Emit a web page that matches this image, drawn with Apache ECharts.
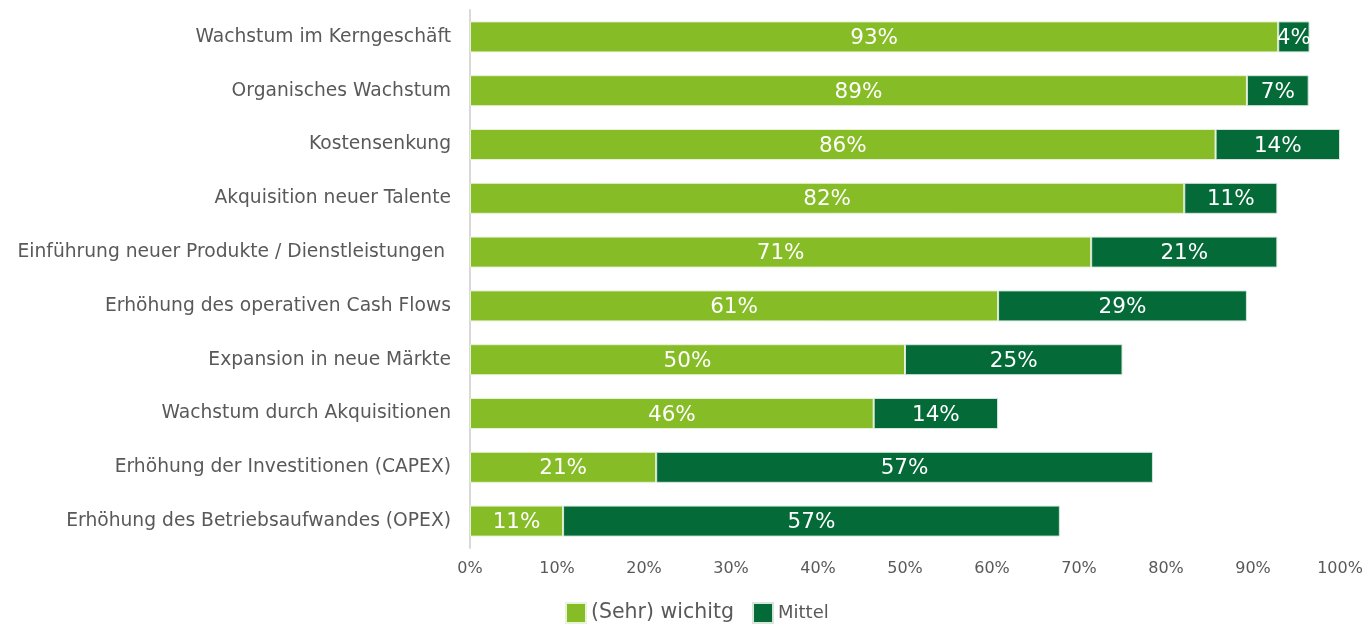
<!DOCTYPE html>
<html>
<head>
<meta charset="utf-8">
<script src="https://cdn.jsdelivr.net/npm/echarts@6/dist/echarts.min.js"></script>
<style>
  html, body { margin: 0; padding: 0; background: #fff; }
  #chart { width: 1369px; height: 627px; }
</style>
</head>
<body>
<div id="chart"></div>
<script>
// Kategorien (von oben nach unten)
const categories = [
    'Wachstum im Kerngeschäft',
    'Organisches Wachstum',
    'Kostensenkung',
    'Akquisition neuer Talente',
    'Einführung neuer Produkte / Dienstleistungen ',
    'Erhöhung des operativen Cash Flows',
    'Expansion in neue Märkte',
    'Wachstum durch Akquisitionen',
    'Erhöhung der Investitionen (CAPEX)',
    'Erhöhung des Betriebsaufwandes (OPEX)'
];
// Anteile in %
const sehrWichtig = [92.9, 89.3, 85.7, 82.1, 71.4, 60.7, 50.0, 46.4, 21.4, 10.7];
const mittel      = [3.6, 7.1, 14.3, 10.7, 21.4, 28.6, 25.0, 14.3, 57.1, 57.1];
const xTicks = [0, 10, 20, 30, 40, 50, 60, 70, 80, 90, 100];

const FONT = '"DejaVu Sans", Verdana, sans-serif';
const GREEN = '#86bc25';
const DARK = '#046a38';

const chart = echarts.init(document.getElementById('chart'));

const barLabel = {
    show: true,
    position: 'inside',
    offset: [0, 1.5],
    color: '#fff',
    fontFamily: FONT,
    fontSize: 21.5,
    formatter: p => Math.round(p.value) + '%'
};

chart.setOption({
    animation: false,
    grid: { left: 470, right: 29, top: 10, bottom: 79, containLabel: false },
    legend: {
        left: 560,
        top: 597,
        itemWidth: 20,
        itemHeight: 20,
        itemGap: 18,
        icon: 'rect',
        data: ['(Sehr) wichitg', 'Mittel'],
        formatter: name => name === 'Mittel' ? '{s|' + name + '}' : '{b|' + name + '}',
        textStyle: {
            color: '#595959',
            fontFamily: FONT,
            rich: {
                b: { fontSize: 20.5, fontFamily: FONT, color: '#595959' },
                s: { fontSize: 18, fontFamily: FONT, color: '#595959' }
            }
        }
    },
    xAxis: {
        type: 'value',
        min: 0,
        max: 100,
        interval: 10,
        axisLine: { show: false },
        axisTick: { show: false },
        splitLine: { show: false },
        axisLabel: {
            color: '#595959',
            fontFamily: FONT,
            fontSize: 16,
            margin: 13,
            formatter: v => xTicks.includes(v) ? v + '%' : ''
        }
    },
    yAxis: {
        type: 'category',
        inverse: true,
        data: categories,
        axisLine: { show: true, lineStyle: { color: '#d9d9d9', width: 2 } },
        axisTick: { show: false },
        axisLabel: {
            color: '#595959',
            fontFamily: FONT,
            fontSize: 18.7,
            margin: 19,
            padding: [6, 0, 0, 0]
        }
    },
    series: [
        {
            name: '(Sehr) wichitg',
            type: 'bar',
            stack: 'total',
            barWidth: 31,
            data: sehrWichtig,
            itemStyle: { color: GREEN, borderColor: '#e8f2d6', borderWidth: 1 },
            label: barLabel
        },
        {
            name: 'Mittel',
            type: 'bar',
            stack: 'total',
            barWidth: 31,
            data: mittel,
            itemStyle: { color: DARK, borderColor: '#d6e6dc', borderWidth: 1 },
            label: barLabel
        }
    ]
});
</script>
</body>
</html>
